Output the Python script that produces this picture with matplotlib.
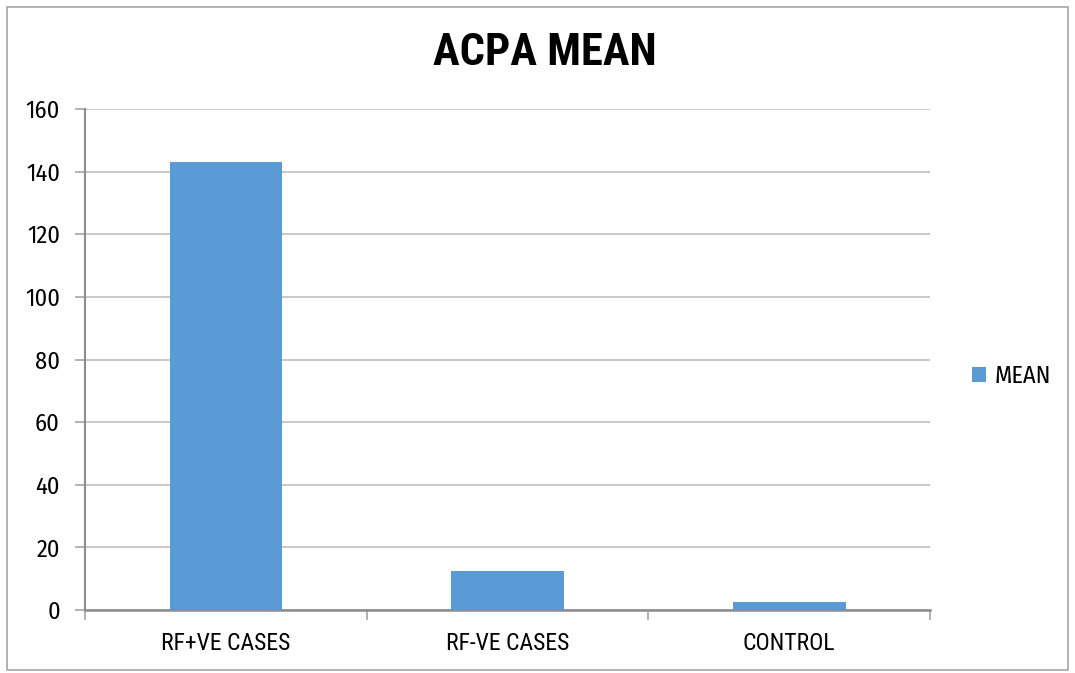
import matplotlib
matplotlib.use("Agg")
import matplotlib.pyplot as plt
from matplotlib.patches import Rectangle, Patch

categories = ["RF+VE CASES", "RF-VE CASES", "CONTROL"]
mean_values = [143.0, 12.3, 2.6]
y_ticks = [0, 20, 40, 60, 80, 100, 120, 140, 160]
series_name = "MEAN"
title = "ACPA MEAN"

W, H = 1075, 673
narrow = ["Roboto Condensed", "DejaVu Sans"]
humanist = ["Fira Sans Condensed", "DejaVu Sans"]
plt.rcParams["font.family"] = humanist

fig = plt.figure(figsize=(W / 100, H / 100), dpi=100)
fig.patch.set_facecolor("white")

# outer chart frame
fig.patches.append(Rectangle((7 / W, 1 - 670 / H), (1068 - 7) / W, (670 - 7) / H,
                             transform=fig.transFigure, fill=False,
                             edgecolor="#A6A6A6", linewidth=1.2))

ax = fig.add_axes([85 / W, 1 - 610 / H, (930 - 85) / W, (610 - 109) / H])
x = list(range(len(categories)))
bar_color = "#5B9BD5"
ax.bar(x, mean_values, width=0.4, color=bar_color, zorder=3)

ax.set_xlim(-0.5, len(categories) - 0.5)
ax.set_ylim(0, 160)
ax.set_yticks(y_ticks)
ax.set_yticklabels([str(v) for v in y_ticks], fontsize=17.5, family=humanist)
ax.yaxis.grid(True, color="#BFBFBF", linewidth=1.2, zorder=0)
ax.set_axisbelow(True)

ax.set_xticks(x)
ax.set_xticklabels(categories, fontsize=17, family=narrow)
ax.set_xticks([i - 0.5 for i in range(len(categories) + 1)], minor=True)
ax.tick_params(axis="x", which="major", length=0, pad=16)
ax.tick_params(axis="x", which="minor", length=7, color="#A6A6A6", width=1.2)
ax.tick_params(axis="y", length=7, color="#A6A6A6", width=1.2, pad=11)

for side in ("top", "right"):
    ax.spines[side].set_visible(False)
ax.spines["left"].set_color("#8C8C8C")
ax.spines["left"].set_linewidth(1.5)
ax.spines["bottom"].set_color("#8C8C8C")
ax.spines["bottom"].set_linewidth(1.8)

fig.text(544.5 / W, 1 - 65 / H, title, ha="center", va="baseline",
         fontsize=32, fontweight="bold", family=narrow)

handle = Patch(facecolor=bar_color, edgecolor="none", label=series_name)
fig.legend(handles=[handle], loc="center left",
           bbox_to_anchor=(962 / W, 1 - 376 / H), frameon=False,
           prop={"family": humanist, "size": 17.5},
           handlelength=0.58, handleheight=0.58,
           handletextpad=0.37, borderaxespad=0)

fig.savefig("out.png", dpi=100)
